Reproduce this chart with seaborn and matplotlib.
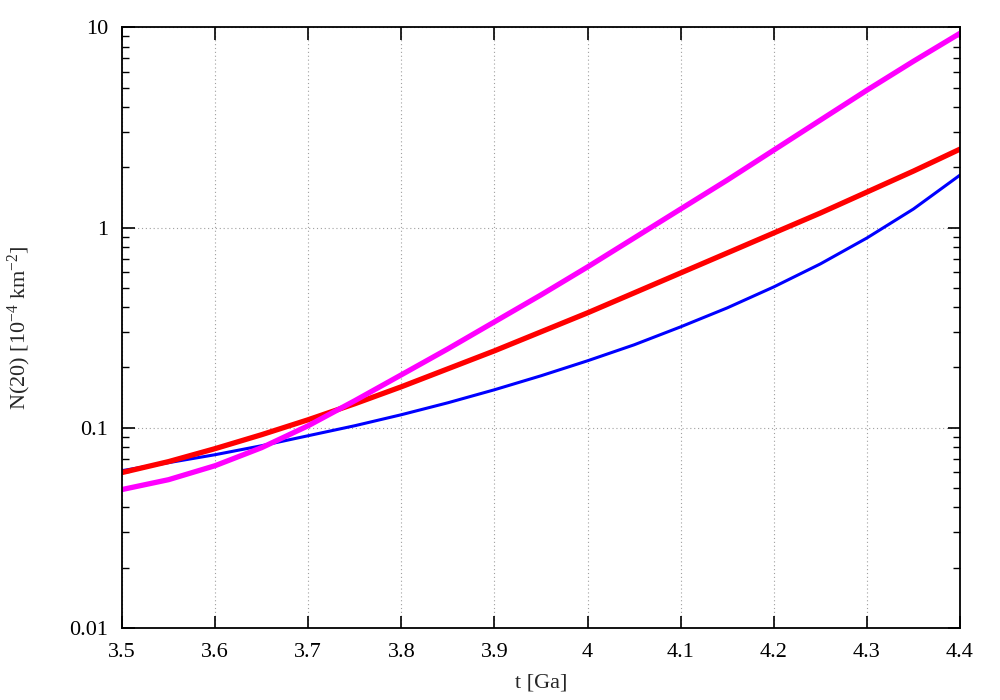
import numpy as np
import pandas as pd
import seaborn as sns
import matplotlib
matplotlib.use('Agg')
import matplotlib.pyplot as plt
from matplotlib.ticker import LogLocator, FixedLocator, FuncFormatter, MultipleLocator

# values (t in Ga, N(20) in 1e-4 km^-2)
t = [3.5, 3.55, 3.6, 3.65, 3.7, 3.75, 3.8, 3.85, 3.9, 3.95,
     4.0, 4.05, 4.1, 4.15, 4.2, 4.25, 4.3, 4.35, 4.4]
n_magenta = [0.0491, 0.0550, 0.0646, 0.0795, 0.1023, 0.1364, 0.1837, 0.2477, 0.3378, 0.4606,
             0.6353, 0.8862, 1.237, 1.725, 2.435, 3.438, 4.851, 6.767, 9.335]
n_red = [0.0597, 0.0677, 0.0786, 0.0923, 0.1096, 0.1317, 0.1601, 0.1969, 0.2421, 0.3012,
         0.3747, 0.4713, 0.5930, 0.7461, 0.9389, 1.181, 1.503, 1.913, 2.463]
n_blue = [0.0610, 0.0669, 0.0733, 0.0813, 0.0912, 0.1023, 0.1161, 0.1332, 0.1547, 0.1817,
          0.2159, 0.2594, 0.3190, 0.3967, 0.5049, 0.6577, 0.8862, 1.237, 1.827]

sns.set_theme(style='ticks')
plt.rcParams['font.family'] = ['Liberation Serif', 'DejaVu Serif']
plt.rcParams['mathtext.fontset'] = 'custom'
plt.rcParams['mathtext.rm'] = 'Liberation Serif'
plt.rcParams['mathtext.it'] = 'Liberation Serif:italic'

df = pd.DataFrame({'t': t, 'blue': n_blue, 'red': n_red, 'magenta': n_magenta})

fig = plt.figure(figsize=(10, 7), dpi=100)
ax = fig.add_axes([0.122, 0.103, 0.838, 0.858])

sns.lineplot(data=df, x='t', y='blue', ax=ax, color='#0000ff', linewidth=2.2)
sns.lineplot(data=df, x='t', y='red', ax=ax, color='#ff0000', linewidth=3.8)
sns.lineplot(data=df, x='t', y='magenta', ax=ax, color='#ff00ff', linewidth=3.8)

ax.set_yscale('log')
ax.set_xlim(3.5, 4.4)
ax.set_ylim(0.01, 10)

ax.xaxis.set_major_locator(MultipleLocator(0.1))
ax.xaxis.set_major_formatter(FuncFormatter(lambda v, p: f'{v:g}'))
ax.yaxis.set_major_locator(FixedLocator([0.01, 0.1, 1, 10]))
ax.yaxis.set_major_formatter(FuncFormatter(lambda v, p: f'{v:g}'))
ax.yaxis.set_minor_locator(LogLocator(base=10, subs=np.arange(2, 10)))

ax.grid(True, which='major', color='#a0a0a0', linestyle=(0, (1, 2.5)), linewidth=0.8)
ax.tick_params(which='both', direction='in', top=True, right=True, labelsize=16, colors='black')
ax.tick_params(axis='x', pad=11)
ax.tick_params(axis='y', pad=10)
ax.tick_params(which='major', length=9, width=1.2)
ax.tick_params(which='minor', length=5, width=1.0)
for s in ax.spines.values():
    s.set_linewidth(1.3)
    s.set_color('black')

ax.set_xlabel('t [Ga]', fontsize=16, labelpad=8)
ax.set_ylabel(r'N(20) [10$^{\mathrm{-4}}$ km$^{\mathrm{-2}}$]', fontsize=16, labelpad=26)

fig.savefig('out.png', dpi=100, facecolor='white')
